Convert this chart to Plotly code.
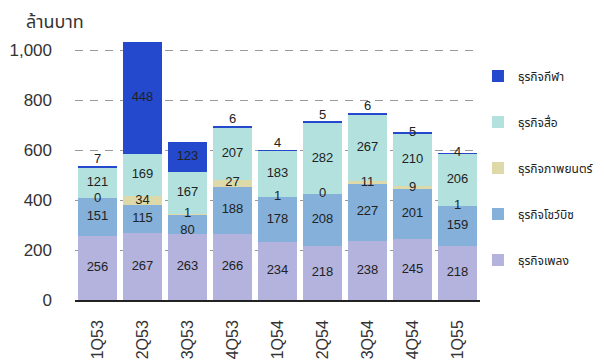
import plotly.graph_objects as go

quarters = ["1Q53", "2Q53", "3Q53", "4Q53", "1Q54", "2Q54", "3Q54", "4Q54", "1Q55"]
music = [256, 267, 263, 266, 234, 218, 238, 245, 218]        # ธุรกิจเพลง
showbiz = [151, 115, 80, 188, 178, 208, 227, 201, 159]       # ธุรกิจโชว์บิซ
movie = [0, 34, 1, 27, 1, 0, 11, 9, 1]                       # ธุรกิจภาพยนตร์
media = [121, 169, 167, 207, 183, 282, 267, 210, 206]        # ธุรกิจสื่อ
sport = [7, 448, 123, 6, 4, 5, 6, 5, 4]                      # ธุรกิจกีฬา
y_ticks = [0, 200, 400, 600, 800, 1000]

series = [
    ("ธุรกิจเพลง", music, "#b3b3de"),
    ("ธุรกิจโชว์บิซ", showbiz, "#84b0da"),
    ("ธุรกิจภาพยนตร์", movie, "#ddd9a9"),
    ("ธุรกิจสื่อ", media, "#b3e2de"),
    ("ธุรกิจกีฬา", sport, "#2449cc"),
]

# label placement styles
sport_label_pos = ["top center", "middle center", "middle center", "top center", "top center",
                   "top center", "top center", "middle center", "middle center"]
showbiz_label_pos = ["middle center", "middle center", "bottom center", "middle center",
                     "middle center", "middle center", "middle center", "middle center",
                     "middle center"]

FONT = "Arial, 'Liberation Sans', 'Noto Sans Thai', sans-serif"

fig = go.Figure()
n = len(series)
for i, (name, vals, color) in enumerate(series):
    fig.add_trace(go.Bar(
        x=quarters, y=vals, name=name, marker=dict(color=color, line=dict(width=0)),
        legendgroup=name, legendrank=n - i,
    ))

# data labels
base = [0] * len(quarters)
for name, vals, color in series:
    xs, ys, txt, pos = [], [], [], []
    for j, v in enumerate(vals):
        if name == "ธุรกิจกีฬา":
            p = sport_label_pos[j]
            ys.append(base[j] + v if (p == "top center" or v < 20) else base[j] + v / 2)
        elif name == "ธุรกิจโชว์บิซ":
            p = showbiz_label_pos[j]
            ys.append(base[j] + v / 2)
        else:
            p = "middle center"
            ys.append(base[j] + v / 2)
        xs.append(quarters[j])
        txt.append(str(v))
        pos.append(p)
        base[j] += v
    fig.add_trace(go.Scatter(
        x=xs, y=ys, text=txt, mode="text", textposition=pos,
        textfont=dict(size=13, color="#222222", family=FONT),
        showlegend=False, hoverinfo="skip", cliponaxis=False,
    ))

fig.update_layout(
    width=604, height=360,
    margin=dict(l=75, r=124, t=38, b=60, autoexpand=False),
    paper_bgcolor="white", plot_bgcolor="white",
    barmode="stack", bargap=0.155,
    font=dict(family=FONT, color="#333333"),
    legend=dict(
        x=0.995, y=0.91, xanchor="left", yanchor="top",
        traceorder="grouped", tracegroupgap=27,
        bgcolor="rgba(0,0,0,0)",
        font=dict(size=12, color="#222222", family=FONT),
        itemwidth=30,
    ),
    annotations=[dict(
        text="ล้านบาท", xref="paper", yref="paper", x=-0.125, y=1.0,
        xanchor="left", yanchor="bottom", yshift=4, showarrow=False,
        font=dict(size=18, color="#333333", family=FONT),
    )],
)
fig.update_yaxes(
    range=[0, 1048], tickvals=y_ticks, tickformat=",d",
    showgrid=True, gridcolor="#9a9a9a", griddash="8px,7px", gridwidth=1.3,
    zeroline=False, showline=False, ticks="",
    tickfont=dict(size=17, color="#333333"), ticklabelstandoff=22,
    automargin=False,
)
fig.update_xaxes(
    showline=True, linecolor="#222222", linewidth=1.5, ticks="",
    tickangle=-90, tickfont=dict(size=16, color="#333333"),
    ticklabelstandoff=12, automargin=False, showgrid=False,
)
fig.write_html("out.html")
